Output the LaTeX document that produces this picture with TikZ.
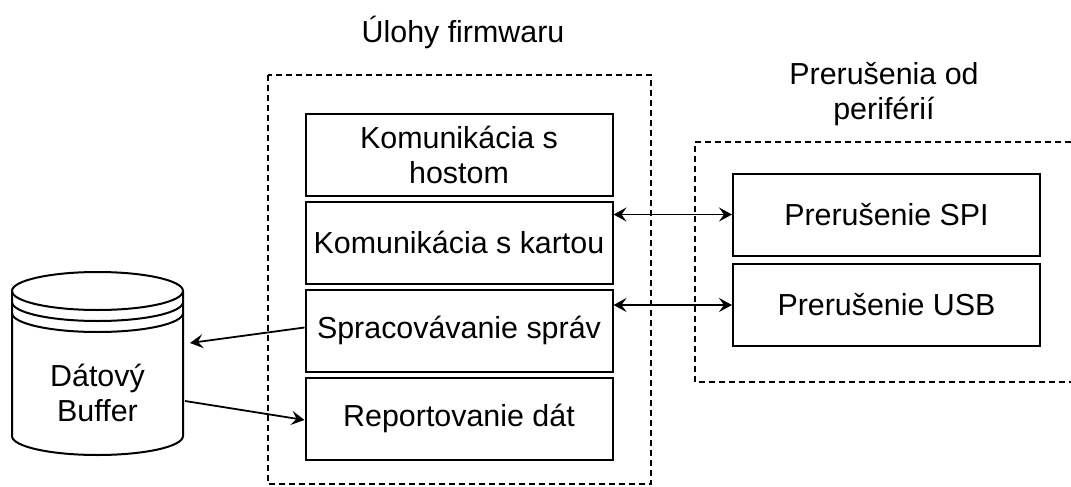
\documentclass[tikz,border=0pt]{standalone}
\usepackage{fontspec}
\setmainfont{Liberation Sans}
\usetikzlibrary{arrows.meta}
\begin{document}
\begin{tikzpicture}[x=0.5pt,y=-0.5pt,
  every node/.style={font=\fontsize{15.2}{17.5}\selectfont, inner sep=0pt},
  task/.style={draw, line width=1pt, minimum width=153.5pt, minimum height=41pt, align=center},
  group/.style={line width=0.8pt, dash pattern=on 3pt off 2pt},
  tip/.style={Stealth[length=6.5pt,width=7pt,inset=2.5pt]},
  link/.style={line width=0.9pt, -{Stealth[length=6.5pt,width=7pt,inset=2.5pt]}},
  biline/.style={line width=0.9pt, {Stealth[length=6.5pt,width=7pt,inset=2.5pt]}-{Stealth[length=6.5pt,width=7pt,inset=2.5pt]}},
  plain/.style={line width=1pt}
]
\useasboundingbox (0,0) rectangle (1071,487);

% groups of tasks and interrupts
\draw[group] (268,75) rectangle (651,484);
\draw[group] (1071,142) -- (695,142) -- (695,382) -- (1071,382);
\node (title) at (463,32) {Úlohy firmwaru};
\node[align=center] (irqtitle) at (884,94) {Prerušenia od\\periférií};

% firmware tasks
\node[task] (host) at (459,154.5) {Komunikácia s\\hostom};
\node[task] (card) at (459,242.5) {Komunikácia s kartou};
\node[task] (proc) at (459,330.5) {Spracovávanie správ};
\node[task] (rep)  at (459,418.5) {Reportovanie dát};

% interrupts
\node[task] (spi) at (886.5,214.5) {Prerušenie SPI};
\node[task] (usb) at (886.5,305) {Prerušenie USB};

% data store
\draw[plain] (12,291) -- (12,436) arc[start angle=180,end angle=0,x radius=85.5,y radius=19]
  -- (183,291) arc[start angle=360,end angle=180,x radius=85.5,y radius=19] -- cycle;
\draw[plain] (12,291) arc[start angle=180,end angle=0,x radius=85.5,y radius=19];
\draw[plain] (12,302) arc[start angle=180,end angle=0,x radius=85.5,y radius=19];
\draw[plain] (12,313) arc[start angle=180,end angle=0,x radius=85.5,y radius=19];
\node[align=center] (buf) at (97.5,393) {Dátový\\Buffer};
\coordinate (bufin) at (190,343);
\coordinate (bufout) at (185,401);

% connectors
\draw[biline] (card.east |- spi.west) -- (spi.west);
\draw[biline] (proc.east |- usb.west) -- (usb.west);
\draw[link] ([yshift=1.5pt]proc.west) -- (bufin);
\draw[link] (bufout) -- ([yshift=-0.75pt]rep.west);
\end{tikzpicture}
\end{document}
